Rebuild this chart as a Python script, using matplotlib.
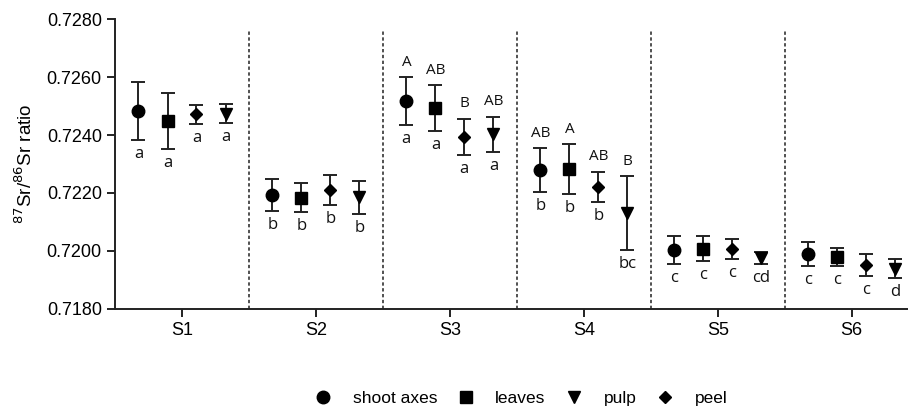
import numpy as np
import matplotlib.pyplot as plt
from matplotlib.transforms import offset_copy

sites = ['S1', 'S2', 'S3', 'S4', 'S5', 'S6']

shoot = [0.72483, 0.72193, 0.72517, 0.72279, 0.72003, 0.71990]
shoot_sd = [0.00101, 0.00055, 0.00083, 0.00075, 0.00047, 0.00041]
shoot_low = ['a', 'b', 'a', 'b', 'c', 'c']
shoot_up = ['', '', 'A', 'AB', '', '']

leaves = [0.72449, 0.72183, 0.72493, 0.72283, 0.72007, 0.71979]
leaves_sd = [0.00097, 0.00050, 0.00079, 0.00085, 0.00043, 0.00031]
leaves_low = ['a', 'b', 'a', 'b', 'c', 'c']
leaves_up = ['', '', 'AB', 'A', '', '']

peel = [0.72472, 0.72210, 0.72393, 0.72221, 0.72007, 0.71952]
peel_sd = [0.00033, 0.00052, 0.00063, 0.00052, 0.00035, 0.00038]
peel_low = ['a', 'b', 'a', 'b', 'c', 'c']
peel_up = ['', '', 'B', 'AB', '', '']

pulp = [0.72474, 0.72186, 0.72403, 0.72131, 0.71977, 0.71939]
pulp_sd = [0.00033, 0.00057, 0.00060, 0.00126, 0.00021, 0.00033]
pulp_low = ['a', 'b', 'a', 'bc', 'cd', 'd']
pulp_up = ['', '', 'AB', 'B', '', '']

plt.rcParams['font.family'] = ['Liberation Sans', 'DejaVu Sans']

fig = plt.figure(figsize=(9.08, 4.07), dpi=100)
ax = fig.add_axes([0.1267, 0.2408, 0.8733, 0.7125])

x = np.arange(1, len(sites) + 1)
series = [
    ('shoot axes', 'o', 9, -0.325, shoot, shoot_sd, shoot_low, shoot_up),
    ('leaves', 's', 8.5, -0.108, leaves, leaves_sd, leaves_low, leaves_up),
    ('peel', 'D', 6, 0.108, peel, peel_sd, peel_low, peel_up),
    ('pulp', 'v', 9, 0.325, pulp, pulp_sd, pulp_low, pulp_up),
]

for name, mk, ms, off, m, sd, low, up in series:
    xs = x + off
    ax.errorbar(xs, m, yerr=sd, fmt=mk, ms=ms, color='black', ecolor='#222222',
                elinewidth=1.4, capsize=4.7, capthick=1.4, label=name)
    for xi, mi, si, lo, hi in zip(xs, m, sd, low, up):
        t_low = offset_copy(ax.transData, fig=fig, y=-14, units='dots')
        ax.text(xi, mi - si, lo, transform=t_low, ha='center', va='center',
                fontsize=12, family='Open Sans', color='#111111')
        if hi:
            t_up = offset_copy(ax.transData, fig=fig, y=15, units='dots')
            ax.text(xi, mi + si, hi, transform=t_up, ha='center', va='center',
                    fontsize=11, family='Open Sans', color='#111111')

for d in x[:-1] + 0.5:
    ax.plot([d, d], [0.7180, 0.7276], ls=(0, (2, 1.5)), color='#333333', lw=1.2)

ax.set_xlim(0.5, 6.42)
ax.set_ylim(0.7180, 0.7280)
yt = np.arange(0.7180, 0.72801, 0.0020)
ax.set_yticks(yt)
ax.set_yticklabels(['%.4f' % v for v in yt])
ax.set_xticks(x)
ax.set_xticklabels(sites)
ax.tick_params(labelsize=13, width=1.4, length=6, color='#222222')
ax.set_ylabel(r'$^{87}$Sr/$^{86}$Sr ratio', fontsize=13.5, labelpad=8)

for s in ['top', 'right']:
    ax.spines[s].set_visible(False)
for s in ['left', 'bottom']:
    ax.spines[s].set_linewidth(1.4)
    ax.spines[s].set_color('#222222')

order = ['shoot axes', 'leaves', 'pulp', 'peel']
marks = {'shoot axes': ('o', 9), 'leaves': ('s', 8.5), 'pulp': ('v', 9), 'peel': ('D', 6)}
leg_h = [plt.Line2D([], [], marker=marks[n][0], ms=marks[n][1], color='black', ls='none')
         for n in order]
fig.legend(leg_h, order, loc='center', bbox_to_anchor=(0.569, 0.02), ncol=4,
           frameon=False, fontsize=12.5, handletextpad=0.7, columnspacing=0.65)

fig.savefig('out.png', dpi=100)
